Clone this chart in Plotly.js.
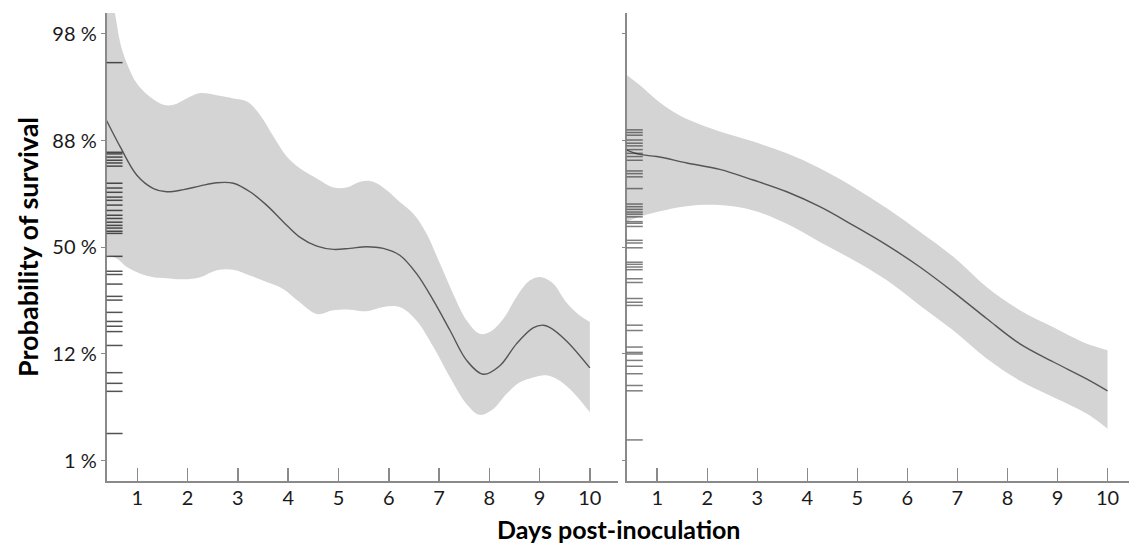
<!DOCTYPE html>
<html>
<head>
<meta charset="utf-8">
<script src="https://cdn.plot.ly/plotly-3.0.1.min.js"></script>
<style>html,body{margin:0;padding:0;background:#fff;} #chart{width:1129px;height:546px;}</style>
</head>
<body>
<div id="chart"></div>
<script>
// y values are on the logit scale of survival probability
const yTickVals = [-4, -2, 0, 2, 4];
const yTickText = ["1 %", "12 %", "50 %", "88 %", "98 %"];
const xTickVals = [1, 2, 3, 4, 5, 6, 7, 8, 9, 10];

// Left panel
const leftMeanX = [0.39, 0.66, 0.99, 1.32, 1.58, 1.92, 2.25, 2.58, 2.91, 3.24, 3.57, 3.90, 4.23, 4.57, 4.90, 5.23, 5.56, 5.89, 6.22, 6.55, 6.89, 7.22, 7.55, 7.88, 8.21, 8.54, 8.87, 9.07, 9.20, 9.53, 10.0];
const leftMeanY = [2.37, 1.88, 1.35, 1.10, 1.04, 1.08, 1.15, 1.21, 1.20, 1.04, 0.79, 0.48, 0.19, 0.02, -0.04, -0.02, 0.01, -0.02, -0.15, -0.49, -1.00, -1.56, -2.12, -2.38, -2.22, -1.81, -1.51, -1.46, -1.50, -1.75, -2.26];
const leftUpX = [0.39, 0.55, 0.66, 0.79, 0.99, 1.25, 1.52, 1.72, 1.98, 2.25, 2.58, 2.91, 3.18, 3.44, 3.71, 3.97, 4.23, 4.57, 4.90, 5.16, 5.43, 5.69, 5.96, 6.22, 6.49, 6.75, 7.02, 7.28, 7.55, 7.81, 8.01, 8.28, 8.54, 8.81, 9.04, 9.27, 9.53, 9.80, 10.0];
const leftUpY = [5.0, 4.40, 3.83, 3.45, 3.07, 2.82, 2.67, 2.67, 2.79, 2.89, 2.85, 2.79, 2.73, 2.48, 2.07, 1.70, 1.48, 1.29, 1.12, 1.12, 1.23, 1.23, 1.07, 0.85, 0.63, 0.26, -0.31, -0.87, -1.37, -1.62, -1.59, -1.34, -0.93, -0.62, -0.56, -0.68, -1.03, -1.28, -1.40];
const leftLowX = [0.39, 0.59, 0.79, 1.05, 1.32, 1.58, 1.92, 2.25, 2.58, 2.91, 3.24, 3.57, 3.90, 4.23, 4.57, 4.90, 5.23, 5.56, 5.89, 6.22, 6.55, 6.89, 7.22, 7.55, 7.81, 8.08, 8.34, 8.61, 8.87, 9.14, 9.40, 9.67, 10.0];
const leftLowY = [-0.15, -0.21, -0.37, -0.49, -0.56, -0.58, -0.60, -0.56, -0.43, -0.42, -0.53, -0.65, -0.78, -1.03, -1.25, -1.18, -1.17, -1.20, -1.12, -1.12, -1.37, -1.87, -2.44, -2.94, -3.14, -3.03, -2.75, -2.53, -2.44, -2.40, -2.50, -2.72, -3.09];
const leftRug = [3.46, 1.78, 1.75, 1.69, 1.63, 1.58, 1.52, 1.20, 1.11, 1.03, 0.94, 0.88, 0.79, 0.69, 0.60, 0.54, 0.47, 0.41, 0.36, 0.30, 0.26, -0.17, -0.45, -0.51, -0.69, -0.92, -0.99, -1.22, -1.39, -1.48, -1.58, -1.84, -2.35, -2.55, -2.70, -3.49];

// Right panel
const rightMeanX = [0.39, 0.65, 0.99, 1.59, 2.25, 2.92, 3.59, 4.25, 4.92, 5.59, 6.25, 6.92, 7.59, 8.25, 8.92, 9.59, 10.0];
const rightMeanY = [1.82, 1.74, 1.70, 1.58, 1.46, 1.26, 1.04, 0.76, 0.41, 0.04, -0.37, -0.84, -1.34, -1.81, -2.15, -2.47, -2.69];
const rightUpX = [0.39, 0.65, 0.99, 1.32, 1.65, 2.25, 2.92, 3.59, 4.25, 4.92, 5.59, 6.25, 6.92, 7.59, 8.25, 8.92, 9.59, 10.0];
const rightUpY = [3.23, 3.04, 2.76, 2.54, 2.38, 2.17, 1.98, 1.76, 1.48, 1.13, 0.73, 0.29, -0.18, -0.75, -1.18, -1.50, -1.81, -1.93];
const rightLowX = [0.39, 0.65, 0.99, 1.59, 2.25, 2.92, 3.59, 4.25, 4.92, 5.59, 6.25, 6.92, 7.59, 8.25, 8.92, 9.59, 10.0];
const rightLowY = [0.48, 0.57, 0.66, 0.77, 0.79, 0.69, 0.44, 0.10, -0.24, -0.62, -1.09, -1.56, -2.09, -2.50, -2.81, -3.12, -3.40];
const rightRug = [2.20, 2.15, 2.10, 2.01, 1.95, 1.90, 1.83, 1.76, 1.70, 1.63, 1.43, 1.38, 1.32, 1.10, 0.81, 0.76, 0.71, 0.66, 0.62, 0.57, 0.48, 0.45, 0.39, 0.13, 0.08, -0.01, -0.28, -0.32, -0.37, -0.42, -0.59, -0.66, -0.96, -1.03, -1.09, -1.46, -1.56, -1.87, -1.97, -2.00, -2.12, -2.23, -2.37, -2.59, -2.69, -3.61];

const bandColor = '#d4d4d4';
const lineColor = '#555555';

function band(xl, yl, xu, yu, xa, ya) {
  return [
    {x: xl, y: yl, xaxis: xa, yaxis: ya, mode: 'lines', line: {width: 0, shape: 'spline', color: bandColor}, hoverinfo: 'skip', showlegend: false},
    {x: xu, y: yu, xaxis: xa, yaxis: ya, mode: 'lines', fill: 'tonexty', fillcolor: bandColor, line: {width: 0, shape: 'spline', color: bandColor}, hoverinfo: 'skip', showlegend: false}
  ];
}

const traces = [
  ...band(leftLowX, leftLowY, leftUpX, leftUpY, 'x', 'y'),
  {x: leftMeanX, y: leftMeanY, xaxis: 'x', yaxis: 'y', mode: 'lines', line: {color: lineColor, width: 1.4, shape: 'spline'}, showlegend: false},
  ...band(rightLowX, rightLowY, rightUpX, rightUpY, 'x2', 'y2'),
  {x: rightMeanX, y: rightMeanY, xaxis: 'x2', yaxis: 'y2', mode: 'lines', line: {color: lineColor, width: 1.4, shape: 'spline'}, showlegend: false}
];

const shapes = [];
leftRug.forEach(v => shapes.push({type: 'line', xref: 'x domain', yref: 'y', x0: 0, x1: 0.031, y0: v, y1: v, line: {color: 'rgba(25,25,25,0.75)', width: 1.5}}));
rightRug.forEach(v => shapes.push({type: 'line', xref: 'x2 domain', yref: 'y2', x0: 0, x1: 0.032, y0: v, y1: v, line: {color: 'rgba(40,40,40,0.6)', width: 1.5}}));

const fontFam = 'Lato, "Open Sans", sans-serif';
const axisCommon = {
  showgrid: false, zeroline: false, showline: true, linecolor: '#8a8a8a', linewidth: 2
};

const layout = {
  width: 1129, height: 546,
  margin: {l: 0, r: 0, t: 13, b: 65},
  paper_bgcolor: '#ffffff', plot_bgcolor: '#ffffff',
  font: {family: fontFam, color: '#1a1a1a'},
  showlegend: false,
  xaxis: Object.assign({}, axisCommon, {
    domain: [0.0945, 0.5474], range: [0.39, 10.56],
    tickvals: xTickVals, ticks: 'inside', ticklen: 13, tickwidth: 1.5, tickcolor: '#8a8a8a',
    tickfont: {size: 20, family: fontFam, color: '#1a1a1a'}, anchor: 'y', ticklabelstandoff: -2
  }),
  yaxis: Object.assign({}, axisCommon, {
    range: [-4.38, 4.39], tickvals: yTickVals, ticktext: yTickText,
    ticks: 'outside', ticklen: 4, tickwidth: 1, tickcolor: '#8a8a8a',
    tickfont: {size: 20, family: fontFam, color: '#1a1a1a'}, anchor: 'x',
    title: {text: '<b>Probability of survival</b>', font: {size: 27, family: fontFam, color: '#000'}, standoff: 6}
  }),
  xaxis2: Object.assign({}, axisCommon, {
    domain: [0.5551, 1.0], range: [0.39, 10.43],
    tickvals: xTickVals, ticks: 'inside', ticklen: 13, tickwidth: 1.5, tickcolor: '#8a8a8a',
    tickfont: {size: 20, family: fontFam, color: '#1a1a1a'}, anchor: 'y2', ticklabelstandoff: -2
  }),
  yaxis2: Object.assign({}, axisCommon, {
    range: [-4.38, 4.39], tickvals: yTickVals, showticklabels: false,
    ticks: 'outside', ticklen: 3, tickwidth: 1, tickcolor: '#8a8a8a', anchor: 'x2'
  }),
  shapes: shapes,
  annotations: [
    {text: '<b>Days post-inoculation</b>', xref: 'paper', yref: 'paper', x: 0.548, y: -0.1035, yanchor: 'middle', showarrow: false, font: {size: 25, family: fontFam, color: '#000'}}
  ]
};

Plotly.newPlot('chart', traces, layout, {displayModeBar: false, staticPlot: true});
</script>
</body>
</html>
